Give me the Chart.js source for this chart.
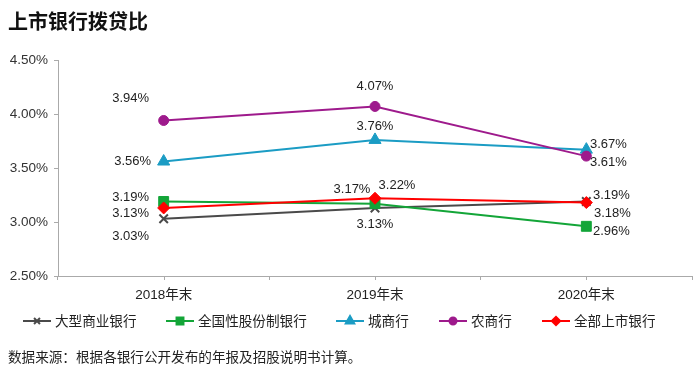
<!DOCTYPE html>
<html>
<head>
<meta charset="utf-8">
<script src="https://cdn.jsdelivr.net/npm/chart.js@4.4.1/dist/chart.umd.min.js"></script>
<style>
  body { margin: 0; background: #fff; }
  #wrap { position: relative; width: 700px; height: 375px; }
  #title { position: absolute; left: 8px; top: 6px; font: bold 20px "Noto Sans CJK SC", sans-serif; color: #111; }
  #source { position: absolute; left: 8px; top: 346px; font: 13.6px "Liberation Sans", "Noto Sans CJK SC", sans-serif; color: #222; }
  canvas { position: absolute; left: 0; top: 0; }
</style>
</head>
<body>
<div id="wrap">
  <canvas id="c" width="700" height="375"></canvas>
  <div id="title">上市银行拨贷比</div>
  <div id="source">数据来源：根据各银行公开发布的年报及招股说明书计算。</div>
</div>
<script>
// values (%)
const categories = ['2018年末', '2019年末', '2020年末'];
const bigBanks   = [3.03, 3.13, 3.19];
const jointStock = [3.19, 3.17, 2.96];
const cityBanks  = [3.56, 3.76, 3.67];
const ruralBanks = [3.94, 4.07, 3.61];
const allListed  = [3.13, 3.22, 3.18];
const seriesNames = ['大型商业银行', '全国性股份制银行', '城商行', '农商行', '全部上市银行'];

const FONT = '"Liberation Sans", "Noto Sans CJK SC", sans-serif';

// where each value label sits relative to its point
const labelOffsets = [
  [[-33, 18], [0, 16], [25, -6]],
  [[-33, -4], [-23, -14], [25, 5]],
  [[-31, 0], [0, -13], [22, -5]],
  [[-33, -22], [0, -20], [22, 6]],
  [[-33, 5], [22, -13], [26, 11]]
];

// legend marker centres
const legendX = [37, 180, 350, 453, 556];

const valueLabels = {
  id: 'valueLabels',
  afterDatasetsDraw(chart) {
    const ctx = chart.ctx;
    ctx.save();
    ctx.font = '13px ' + FONT;
    ctx.fillStyle = '#222';
    ctx.textAlign = 'center';
    ctx.textBaseline = 'middle';
    chart.data.datasets.forEach((ds, i) => {
      chart.getDatasetMeta(i).data.forEach((pt, j) => {
        const off = labelOffsets[i][j];
        ctx.fillText(ds.data[j].toFixed(2) + '%', pt.x + off[0], pt.y + off[1]);
      });
    });
    ctx.restore();
  }
};

const extras = {
  id: 'extras',
  afterDraw(chart) {
    const ctx = chart.ctx;
    const xs = chart.scales.x;
    const bottom = chart.chartArea.bottom;
    ctx.save();
    // small ticks at category centres
    ctx.strokeStyle = '#aaa';
    ctx.lineWidth = 1;
    categories.forEach((c, i) => {
      const px = Math.round(xs.getPixelForValue(i)) + 0.5;
      ctx.beginPath();
      ctx.moveTo(px, bottom);
      ctx.lineTo(px, bottom + 4);
      ctx.stroke();
    });
    // legend: line with marker in the middle
    const ly = 321;
    ctx.font = '13.6px ' + FONT;
    ctx.textBaseline = 'middle';
    ctx.textAlign = 'left';
    chart.data.datasets.forEach((ds, i) => {
      const cx = legendX[i];
      ctx.strokeStyle = ds.borderColor;
      ctx.fillStyle = ds.backgroundColor;
      ctx.lineWidth = 2;
      ctx.beginPath();
      ctx.moveTo(cx - 14, ly);
      ctx.lineTo(cx + 14, ly);
      ctx.stroke();
      Chart.helpers.drawPoint(ctx, {
        pointStyle: ds.pointStyle,
        radius: ds.pointRadius * 0.7,
        rotation: 0,
        borderWidth: ds.pointBorderWidth
      }, cx, ly);
      ctx.fillStyle = '#222';
      ctx.fillText(seriesNames[i], cx + 18, ly + 1);
    });
    ctx.restore();
  }
};

function series(label, data, color, style, radius, order) {
  return {
    label: label,
    data: data,
    borderColor: color,
    backgroundColor: color,
    pointBackgroundColor: color,
    pointBorderColor: color,
    borderWidth: 2,
    pointStyle: style,
    pointRadius: radius,
    pointHoverRadius: radius,
    pointBorderWidth: style === 'crossRot' ? 2 : 1,
    order: order,
    tension: 0
  };
}

new Chart(document.getElementById('c').getContext('2d'), {
  type: 'line',
  data: {
    labels: categories,
    datasets: [
      series(seriesNames[0], bigBanks, '#4a4a4a', 'crossRot', 6, 4),
      series(seriesNames[1], jointStock, '#13a538', 'rect', 7, 3),
      series(seriesNames[2], cityBanks, '#1b9cc4', 'triangle', 7, 2),
      series(seriesNames[3], ruralBanks, '#9e1a8c', 'circle', 5, 1),
      series(seriesNames[4], allListed, '#ff0000', 'rectRot', 6, 0)
    ]
  },
  options: {
    responsive: false,
    animation: false,
    events: [],
    layout: { padding: { left: 0, right: 8, top: 60, bottom: 69 } },
    plugins: { legend: { display: false }, tooltip: { enabled: false } },
    scales: {
      x: {
        offset: true,
        afterFit(s) { s.height = 30; },
        grid: { display: true, offset: true, drawOnChartArea: false, tickLength: 4, color: '#aaa' },
        border: { color: '#aaa' },
        ticks: { font: { size: 13.5, family: FONT }, color: '#222', padding: 7 }
      },
      y: {
        min: 2.5,
        max: 4.5,
        afterFit(s) { s.width = 58; },
        grid: { drawOnChartArea: false, tickLength: 4, color: '#aaa' },
        border: { color: '#aaa' },
        ticks: {
          stepSize: 0.5,
          font: { size: 13.5, family: FONT },
          color: '#333',
          padding: 6,
          callback: v => v.toFixed(2) + '%'
        }
      }
    }
  },
  plugins: [valueLabels, extras]
});
</script>
</body>
</html>
